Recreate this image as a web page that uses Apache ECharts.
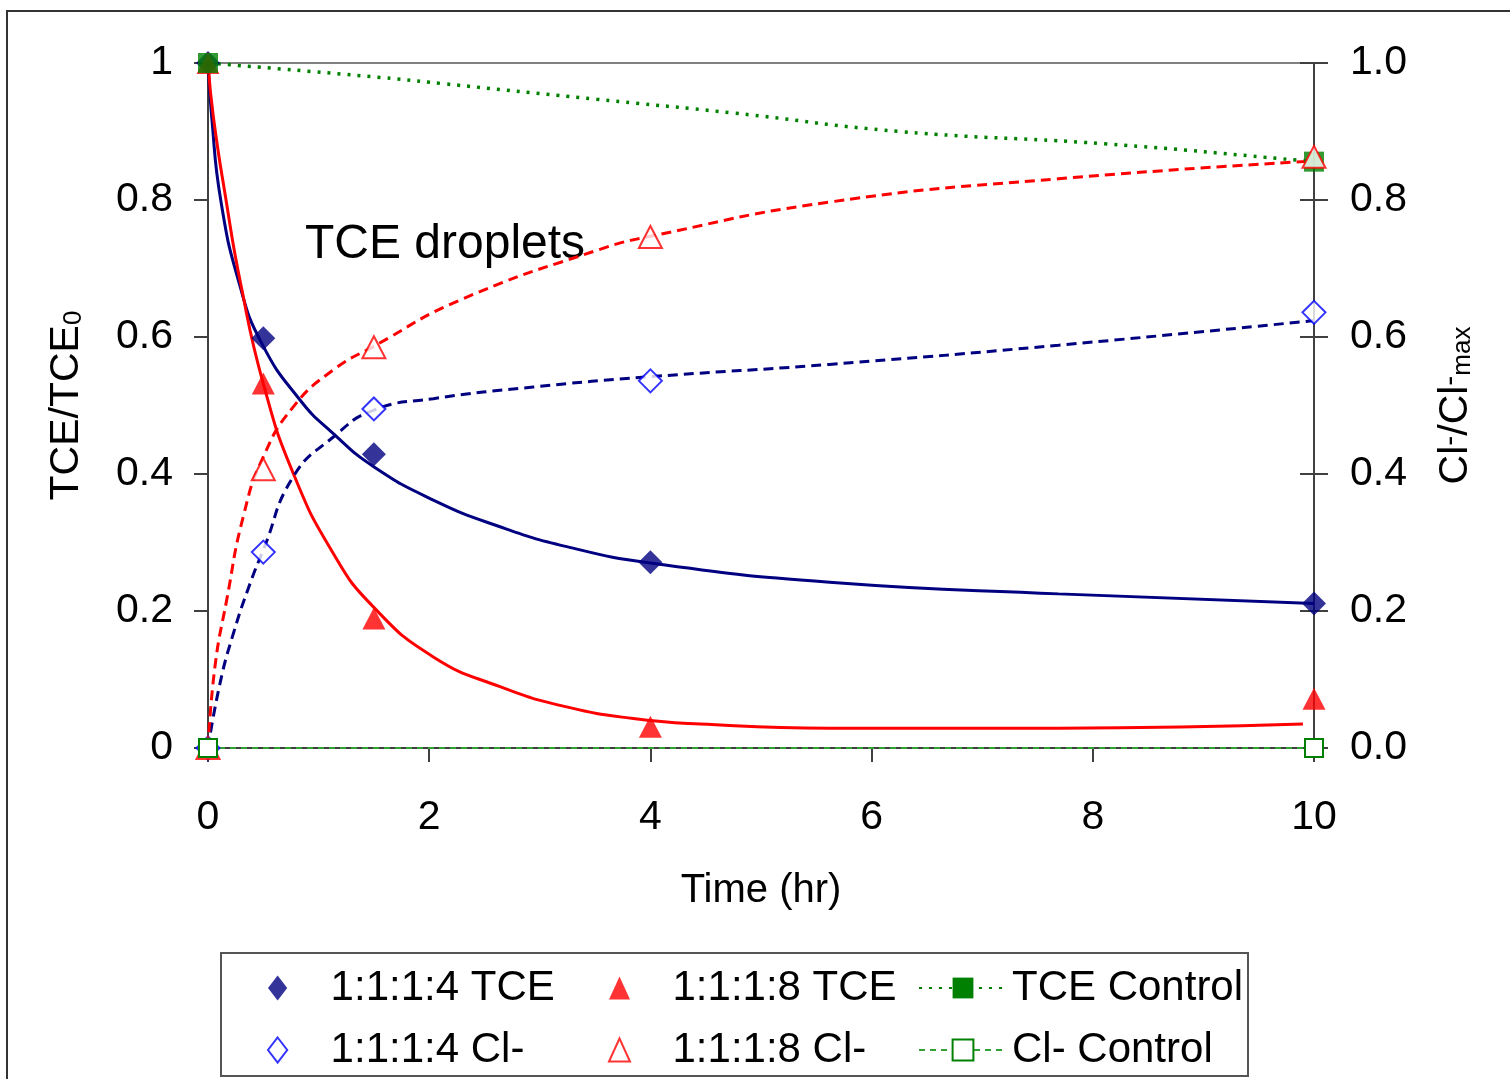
<!DOCTYPE html>
<html><head><meta charset="utf-8">
<script src="https://cdn.jsdelivr.net/npm/echarts@6/dist/echarts.min.js"></script>
<style>html,body{margin:0;padding:0;background:#fff}#c{width:1510px;height:1079px}</style>
</head><body><div id="c"></div>
<script>
// ---- data ----
const times = [0, 0.5, 1.5, 4, 10];
const tce114 = [1, 0.598, 0.429, 0.271, 0.211];
const tce118 = [1, 0.532, 0.189, 0.031, 0.072];
const cl114 = [0, 0.286, 0.495, 0.536, 0.636];
const cl118 = [0, 0.407, 0.585, 0.746, 0.863];
const ctrlTimes = [0, 10];
const tceCtrl = [1, 0.856];
const clCtrl = [0, 0];
// fitted curves
const fitTce114 = [[0,1],[0.033,0.922],[0.115,0.80],[0.283,0.678],[0.485,0.591],[0.832,0.508],[1.133,0.459],[1.495,0.411],[2.037,0.362],[2.64,0.323],[3.243,0.294],[4.0,0.270],[5.62,0.242],[7.69,0.225],[10,0.211]];
const fitTce118 = [[0,1],[0.048,0.922],[0.163,0.80],[0.295,0.678],[0.5,0.532],[0.771,0.401],[1.133,0.284],[1.495,0.206],[2.037,0.133],[2.64,0.0895],[3.243,0.060],[3.845,0.043],[4.45,0.035],[5.62,0.029],[7.69,0.029],[9.9,0.035]];
const fitCl114 = [[0,0],[0.108,0.094],[0.229,0.167],[0.38,0.24],[0.5,0.289],[0.771,0.396],[1.133,0.454],[1.495,0.493],[2.037,0.51],[2.94,0.527],[4.0,0.542],[5.62,0.560],[7.69,0.588],[10,0.624]];
const fitCl118 = [[0,0],[0.063,0.119],[0.169,0.216],[0.319,0.338],[0.5,0.425],[0.771,0.498],[1.133,0.552],[1.495,0.586],[2.28,0.654],[3.544,0.728],[4.0,0.747],[5.62,0.797],[7.69,0.831],[10,0.857]];
const fitTceCtrl = [[0,1],[1.555,0.979],[2.113,0.970],[3.514,0.947],[4.75,0.927],[6.257,0.900],[8.11,0.882],[9.87,0.858],[10,0.856]];

const F = '"Liberation Sans", Arial, sans-serif';
const zip = (xs, ys) => xs.map((x, i) => [x, ys[i]]);
const AX = '#404040';

const chart = echarts.init(document.getElementById('c'), null, {renderer: 'canvas'});

const yCommon = {
  type: 'value', min: 0, max: 1, interval: 0.2,
  splitLine: {show: false},
  axisLine: {show: true, lineStyle: {color: AX, width: 2}},
  axisTick: {show: true, length: 14, lineStyle: {color: AX, width: 2}},
  axisLabel: {fontSize: 41, color: '#000', fontFamily: F, padding: [4, 0, 0, 0]}
};

const curve = (name, data, color, type, yIdx) => ({
  name, type: 'line', data, yAxisIndex: yIdx, smooth: 0.5,
  showSymbol: false, symbol: 'none', silent: true, clip: false, z: 2,
  lineStyle: {color, width: 3, type}
});

const legCommon = {
  orient: 'vertical', padding: 0, itemGap: 20, selectedMode: false, symbolKeepAspect: true,
  top: 967,
  textStyle: {fontSize: 42, color: '#000', fontFamily: F, lineHeight: 40}
};
const diamondIcon = 'path://M10,0L20,13L10,26L0,13Z';
const triIcon = 'path://M10.5,0L21,23L0,23Z';

chart.setOption({
  animation: false,
  backgroundColor: '#fff',
  grid: {left: 208, right: 196, top: 63, bottom: 331, show: true, borderColor: '#808080', borderWidth: 2, backgroundColor: 'transparent', outerBoundsMode: 'none'},
  xAxis: {
    type: 'value', min: 0, max: 10, interval: 2,
    splitLine: {show: false},
    axisLine: {show: true, onZero: false, lineStyle: {color: AX, width: 2}},
    axisTick: {show: true, length: 14, lineStyle: {color: AX, width: 2}},
    axisLabel: {margin: 49, fontSize: 41, color: '#000', fontFamily: F},
    name: 'Time (hr)', nameLocation: 'middle', nameGap: 123,
    nameTextStyle: {fontSize: 40, color: '#000', fontFamily: F}
  },
  yAxis: [
    Object.assign({}, yCommon, {
      position: 'left',
      axisLabel: Object.assign({}, yCommon.axisLabel, {margin: 35}),
      name: 'TCE/TCE{sub|0}', nameLocation: 'middle', nameGap: 121,
      nameTextStyle: {fontSize: 41, color: '#000', fontFamily: F, lineHeight: 40,
        rich: {sub: {fontSize: 26, fontFamily: F, color: '#000', lineHeight: 14, verticalAlign: 'bottom'}}}
    }),
    Object.assign({}, yCommon, {
      position: 'right',
      axisLabel: Object.assign({}, yCommon.axisLabel, {margin: 36, formatter: v => v.toFixed(1)}),
      name: 'Cl{sup|-}/Cl{sup|-}{sub|max}', nameLocation: 'middle', nameGap: 122,
      nameTextStyle: {fontSize: 41, color: '#000', fontFamily: F, lineHeight: 40,
        rich: {
          sup: {fontSize: 30, fontFamily: F, color: '#000', lineHeight: 14, verticalAlign: 'top'},
          sub: {fontSize: 26, fontFamily: F, color: '#000', lineHeight: 14, verticalAlign: 'bottom'}
        }}
    }),
    Object.assign({}, yCommon, {
      position: 'right',
      axisLine: {show: false},
      axisTick: {show: true, inside: true, length: 14, lineStyle: {color: AX, width: 2}},
      axisLabel: {show: false}
    })
  ],
  legend: [
    Object.assign({}, legCommon, {left: 267, itemWidth: 96, itemHeight: 25,
      data: [{name: '1:1:1:4 TCE', icon: diamondIcon}, {name: '1:1:1:4 Cl-', icon: diamondIcon}]}),
    Object.assign({}, legCommon, {left: 608, itemWidth: 96, itemHeight: 23,
      data: [{name: '1:1:1:8 TCE', icon: triIcon}, {name: '1:1:1:8 Cl-', icon: triIcon}]}),
    Object.assign({}, legCommon, {left: 918, itemWidth: 88, itemHeight: 26,
      data: ['TCE Control', 'Cl- Control']})
  ],
  graphic: [
    {type: 'rect', silent: true, z: -10, shape: {x: 7, y: 11, width: 1600, height: 1200},
      style: {fill: 'none', stroke: '#333', lineWidth: 2}},
    {type: 'rect', silent: true, z: -5, shape: {x: 221, y: 953, width: 1027, height: 123},
      style: {fill: '#fff', stroke: '#555', lineWidth: 2}},
    {type: 'text', silent: true, x: 305, y: 245,
      style: {text: 'TCE droplets', fontSize: 48, fontFamily: F, fill: '#000', verticalAlign: 'middle', align: 'left'}}
  ],
  series: [
    curve('fit 1:1:1:4 TCE', fitTce114, '#000080', 'solid', 0),
    curve('fit 1:1:1:8 TCE', fitTce118, '#ff0000', 'solid', 0),
    Object.assign(curve('TCE Control', fitTceCtrl, '#008000', [3, 7], 0), {
      symbol: 'rect', symbolSize: 20, itemStyle: {color: '#008000'},
      lineStyle: {color: '#008000', width: 3.5, type: [3, 7]}
    }),
    curve('fit 1:1:1:4 Cl-', fitCl114, '#000080', [10, 6], 1),
    curve('fit 1:1:1:8 Cl-', fitCl118, '#ff0000', [10, 6], 1),
    {name: '1:1:1:4 TCE', type: 'scatter', yAxisIndex: 0, data: zip(times, tce114), symbol: 'diamond', symbolSize: 24,
      itemStyle: {color: '#000080'}, clip: false, z: 3, silent: true},
    {name: '1:1:1:8 TCE', type: 'scatter', yAxisIndex: 0, data: zip(times, tce118), symbol: 'triangle', symbolSize: [23, 22],
      itemStyle: {color: '#ff0000'}, clip: false, z: 3, silent: true},
    {name: 'TCE Control pts', type: 'scatter', yAxisIndex: 0, data: zip(ctrlTimes, tceCtrl), symbol: 'rect', symbolSize: 20,
      itemStyle: {color: '#008000'}, clip: false, z: 3, silent: true},
    {name: '1:1:1:4 Cl-', type: 'scatter', yAxisIndex: 1, data: zip(times, cl114), symbol: 'diamond', symbolSize: 23,
      itemStyle: {color: '#fff', borderColor: '#0000ff', borderWidth: 2}, clip: false, z: 3, silent: true},
    {name: '1:1:1:8 Cl-', type: 'scatter', yAxisIndex: 1, data: zip(times, cl118), symbol: 'triangle', symbolSize: [23, 22],
      itemStyle: {color: '#fff', borderColor: '#ff0000', borderWidth: 2}, clip: false, z: 3, silent: true},
    {name: 'Cl- Control', type: 'line', yAxisIndex: 1, data: zip(ctrlTimes, clCtrl), symbol: 'rect', symbolSize: 18,
      showSymbol: true, showAllSymbol: true, clip: false, z: 3, silent: true,
      itemStyle: {color: '#fff', borderColor: '#008000', borderWidth: 2},
      lineStyle: {color: '#33a033', width: 2, type: [6, 5]}}
  ]
});
</script></body></html>
